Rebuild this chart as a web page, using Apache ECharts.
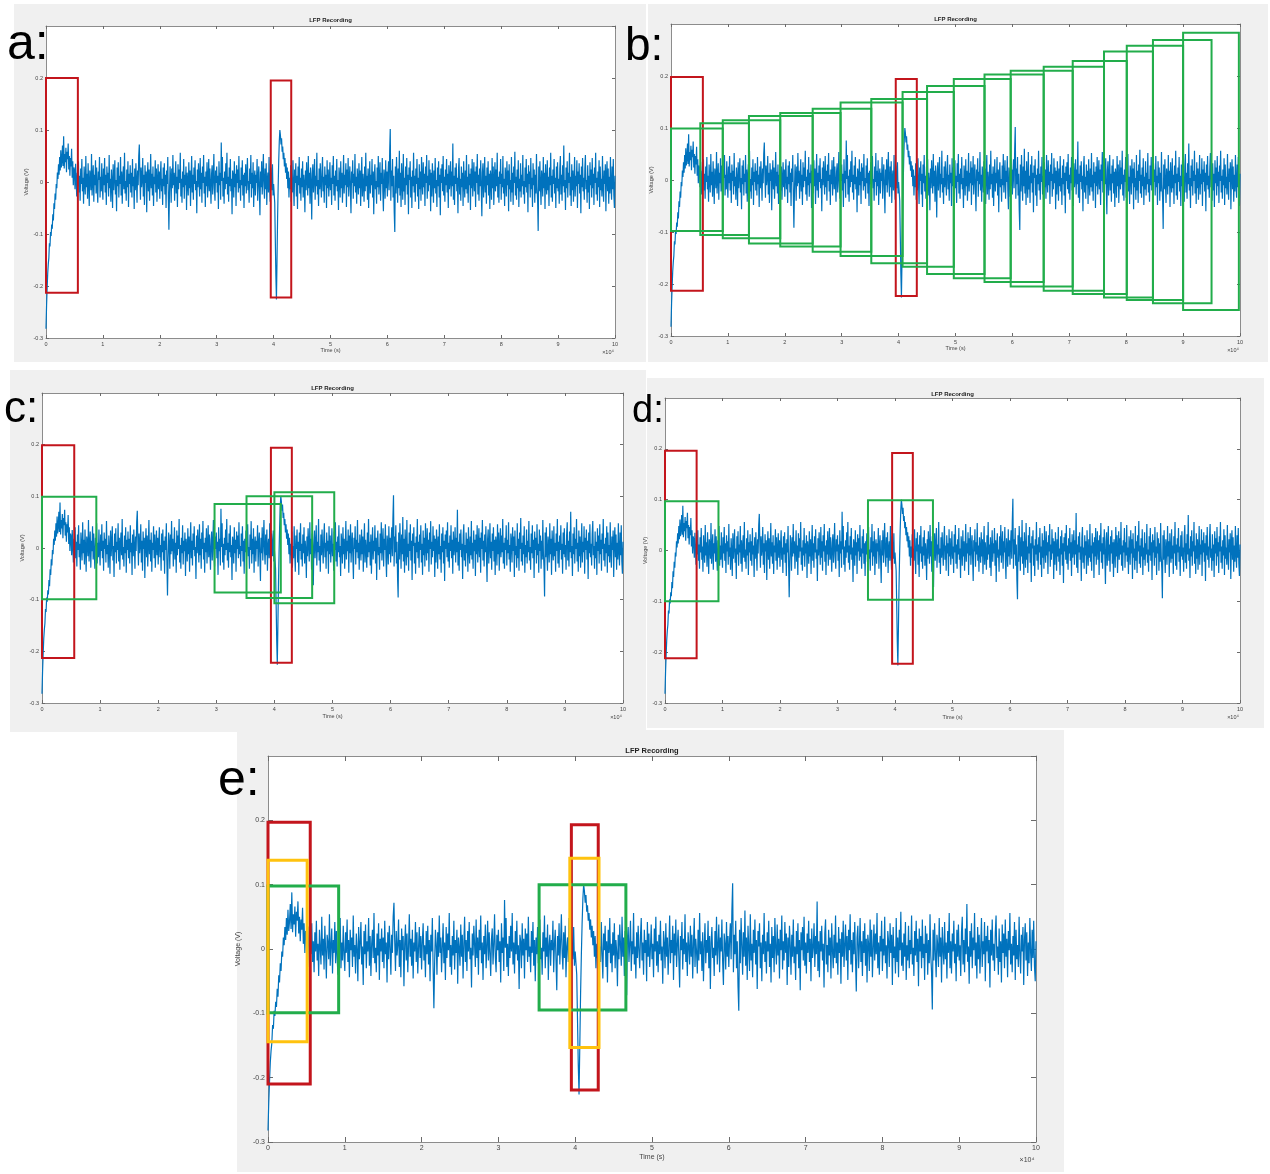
<!DOCTYPE html>
<html>
<head>
<meta charset="utf-8">
<title>LFP Recording</title>
<script src="https://cdn.jsdelivr.net/npm/echarts@6/dist/echarts.min.js"></script>
<style>
  html, body { margin: 0; padding: 0; background: #ffffff; }
  #chart { width: 1270px; height: 1174px; }
</style>
</head>
<body>
<div id="chart"></div>
<script>
// LFP trace in millivolts, evenly sampled over the recording (time axis in units of 1e4 s)
const signalMv = [
  -282,-238,-205,-176,-158,-146,-118,-124,-96,-104,
  -82,-90,-62,-74,-41,-52,-22,-34,-4,-12,
  18,6,34,14,48,22,61,28,42,70,
  31,88,26,54,38,66,19,58,44,74,
  24,50,12,46,30,64,8,40,-6,28,

  22,-14,35,4,-28,18,-8,40,-20,12,
  -36,26,-4,44,-18,8,-42,30,2,-24,
  50,-10,16,-32,36,-2,-46,22,10,-16,
  54,-26,6,32,-38,14,-6,42,-22,28,
  -12,-40,20,4,48,-30,10,-18,36,-8,

  -34,26,-6,46,-20,14,-44,30,-2,18,
  -28,52,-12,6,-38,24,0,-50,34,-16,
  10,42,-24,4,-56,28,-8,38,-30,12,
  -4,48,-26,20,-42,8,30,-14,56,-22,
  2,-36,24,-10,40,-48,16,-4,32,-20,

  18,-30,44,-8,10,-52,26,-16,36,2,
  -40,22,-6,50,72,12,-34,28,-10,6,
  46,-28,14,-44,32,-2,20,-58,8,38,
  -18,24,-36,4,54,-12,16,-26,30,-46,
  10,-4,42,-20,26,-38,2,34,-14,20,

  -32,12,40,-18,6,-44,28,-8,36,-24,
  14,-50,22,-4,48,-30,-92,-20,30,8,
  -40,26,-12,52,-6,18,-36,4,40,-22,
  10,-48,34,-14,24,-2,56,-28,6,-40,
  20,-10,44,-32,14,-6,30,-54,18,2,

  -26,38,-12,22,-46,8,50,-20,14,-34,
  28,-4,42,-16,2,-60,24,-10,36,6,
  -28,46,-14,18,-40,30,-2,52,-22,10,
  -48,20,-8,38,-30,4,44,-18,26,-6,
  -42,16,32,-24,8,54,-12,-36,22,-2,

  30,-20,12,-52,40,-6,18,-34,76,2,
  48,-28,8,-42,20,-14,36,-4,56,-24,
  10,-38,28,-8,44,-18,6,-62,22,12,
  -30,40,-10,16,-46,32,-2,24,-20,50,
  -12,4,-36,28,-6,42,-26,14,-50,18,

  -8,34,-22,10,46,-16,2,-40,26,-4,
  52,-30,18,-12,38,-48,6,22,-26,14,
  -2,44,-36,8,30,-18,-64,20,-10,40,
  -24,12,54,-6,-32,26,-14,36,-44,4,
  18,-20,48,-8,-38,28,6,-16,34,-26,

  -4,-22,-40,-110,-180,-226,-150,-70,-10,40,
  78,100,90,72,84,58,68,44,56,30,
  46,18,36,6,28,-12,20,-30,8,-14,
  32,-38,4,-20,42,-8,-46,24,-2,36,
  -28,12,-52,30,-6,48,-22,8,-36,26,

  -10,40,-30,14,-4,-58,22,-16,38,6,
  -26,50,-12,18,-42,28,-2,-72,16,34,
  -20,8,44,-34,12,-8,56,-24,4,-46,
  26,-14,36,-2,-30,20,48,-18,10,-40,
  30,-6,14,-50,42,-12,24,-28,2,38,

  -16,8,-44,32,-4,50,-26,12,-36,22,
  -8,44,-18,4,-54,28,10,-30,40,-12,
  18,-40,2,52,-22,14,-6,36,-48,24,
  -10,46,-28,6,30,-16,-60,20,-2,42,
  -32,16,-8,54,-20,10,-42,26,4,-24,

  36,-12,22,-46,8,48,-28,16,-4,-38,
  30,-18,56,-8,12,-34,26,-50,4,40,
  -22,14,-6,44,-30,20,-62,10,34,-14,
  2,-42,28,-10,50,-24,6,38,-36,18,
  -4,46,-20,-56,24,8,-32,42,-12,20,

  -28,14,40,-16,58,102,-36,22,-8,44,
  -30,12,-58,-96,30,-22,48,6,-40,26,
  -12,60,-26,18,-48,36,2,-34,54,-18,
  8,-44,30,-6,46,-24,14,-62,28,4,
  40,-30,10,-50,22,-8,56,-20,12,-38,

  26,-4,44,-28,8,-52,34,-14,20,-36,
  48,2,-24,38,-10,16,-46,30,-2,52,
  -32,12,-18,42,-6,24,-56,18,-28,36,
  6,-40,22,-12,46,-22,4,-48,28,-8,
  40,-30,14,-64,26,-2,34,-18,50,-26,

  10,-38,24,-6,44,-20,16,-50,32,-14,
  2,40,-28,20,-8,74,-34,12,-44,28,
  -4,36,-18,8,-60,24,46,-24,6,-36,
  30,-10,18,-46,40,-2,-30,22,-14,52,
  -22,10,-40,34,-6,16,-54,26,-12,44,

  -28,6,38,-18,20,-48,30,-2,54,-24,
  14,-36,26,-8,42,-16,-66,18,36,-30,
  4,48,-20,12,-42,28,-6,40,-26,16,
  -52,22,8,-34,46,-12,30,-44,2,38,
  -18,24,-8,56,-30,10,-40,20,-4,44,

  -34,16,-10,50,-22,6,-46,28,12,-28,
  40,-6,22,-56,34,-14,4,-38,48,-20,
  18,-44,30,-2,58,-26,10,-34,24,-12,
  42,-48,6,-18,36,-30,14,-8,52,-24,
  2,-42,28,-10,44,-20,16,-58,32,-4,

  20,-30,46,-14,8,-48,36,-6,24,-40,
  14,-22,54,-10,-36,-94,30,-18,40,-8,
  -44,22,6,-28,48,-12,18,-52,34,-2,
  -24,42,-16,10,-46,28,-6,56,-30,12,
  -38,24,-4,44,-22,8,-50,30,-12,38,

  -18,6,-42,26,50,-24,14,-36,32,-8,
  70,-20,4,-54,28,-12,40,-30,18,-2,
  56,-26,10,-46,34,-16,22,-38,2,48,
  -28,12,-8,42,-50,20,-4,36,-22,14,
  -60,30,-10,46,-18,8,-34,26,52,-14,

  4,-40,32,-20,12,-52,38,-6,24,-30,
  46,-12,16,-44,28,-2,56,-24,8,-36,
  20,-10,42,-48,30,-16,6,-28,50,-8,
  -38,22,-4,34,-56,14,40,-18,26,-42,
  10,-22,48,-6,-34,30,-14,44,-26,-50,
  12
];
const recordingSpan = 10;          // time axis runs 0..10 (x1e4 s)
const timeMin = 0, timeMax = 10, timeStep = 1;
const voltMin = -0.3, voltMax = 0.3, voltStep = 0.1;

// Analysis windows: [tStart, tEnd, vLow, vHigh]
const redA = [[0, 0.56, -0.213, 0.200], [3.95, 4.31, -0.222, 0.195]];

const redB = [[0, 0.56, -0.213, 0.198], [3.95, 4.32, -0.223, 0.194]];
const greenB = [
  [0.00, 0.91, -0.098, 0.099],
  [0.515, 1.37, -0.106, 0.109],
  [0.91, 1.92, -0.112, 0.115],
  [1.37, 2.49, -0.122, 0.123],
  [1.92, 2.98, -0.128, 0.129],
  [2.49, 3.52, -0.138, 0.137],
  [2.98, 4.07, -0.146, 0.149],
  [3.52, 4.50, -0.160, 0.156],
  [4.07, 4.97, -0.167, 0.169],
  [4.50, 5.51, -0.181, 0.181],
  [4.97, 5.97, -0.189, 0.194],
  [5.51, 6.55, -0.196, 0.203],
  [5.97, 7.06, -0.205, 0.210],
  [6.55, 7.61, -0.213, 0.218],
  [7.06, 8.01, -0.219, 0.229],
  [7.61, 8.47, -0.226, 0.247],
  [8.01, 9.00, -0.231, 0.258],
  [8.47, 9.50, -0.237, 0.269],
  [9.00, 9.98, -0.250, 0.283]
];

const redC = [[0, 0.555, -0.213, 0.199], [3.94, 4.30, -0.222, 0.194]];
const greenC = [
  [0, 0.935, -0.099, 0.099],
  [2.97, 4.11, -0.086, 0.085],
  [3.52, 4.65, -0.097, 0.100],
  [4.00, 5.03, -0.107, 0.108]
];

const redD = [[0, 0.55, -0.212, 0.196], [3.95, 4.31, -0.223, 0.192]];
const greenD = [[0, 0.93, -0.100, 0.097], [3.53, 4.66, -0.097, 0.099]];

const redE = [[0, 0.55, -0.210, 0.197], [3.95, 4.30, -0.219, 0.193]];
const greenE = [[0, 0.92, -0.099, 0.098], [3.53, 4.66, -0.095, 0.100]];
const yellowE = [[0, 0.51, -0.144, 0.138], [3.93, 4.31, -0.153, 0.141]];

// Text
const titleText = 'LFP Recording';
const xName = 'Time (s)';
const yName = 'Voltage (V)';
const xExponent = '\u00d710\u2074';

// Layout and styling
const FONT = '"Liberation Sans", Arial, Helvetica, sans-serif';
const RED = '#c3151c', GREEN = '#22ad4b', YELLOW = '#ffc20e', TRACE = '#0072bd';

const panels = [
  { letter: 'a:', letterPos: [7, 45], letterSize: 50, frame: [14, 4, 632, 358], plot: [46, 26, 569, 312],
    titleY: 20, fs: 5.5, tickLen: 3, xGap: 9, yGap: 12, boxW: 2,
    boxes: [[redA, RED]] },
  { letter: 'b:', letterPos: [625, 47], letterSize: 46, frame: [648, 4, 620, 358], plot: [671, 24, 569, 312],
    titleY: 19, fs: 5.5, tickLen: 3, xGap: 9, yGap: 12, boxW: 2,
    boxes: [[redB, RED], [greenB, GREEN]] },
  { letter: 'c:', letterPos: [4, 410], letterSize: 44, frame: [10, 370, 636, 362], plot: [42, 393, 581, 310],
    titleY: 388, fs: 5.5, tickLen: 3, xGap: 10, yGap: 13, boxW: 2,
    boxes: [[redC, RED], [greenC, GREEN]] },
  { letter: 'd:', letterPos: [632, 412], letterSize: 38, frame: [647, 378, 617, 350], plot: [665, 398, 575, 305],
    titleY: 394, fs: 5.5, tickLen: 3, xGap: 11, yGap: 13, boxW: 2,
    boxes: [[redD, RED], [greenD, GREEN]] },
  { letter: 'e:', letterPos: [218, 781], letterSize: 50, frame: [237, 730, 827, 442], plot: [268, 756, 768, 386],
    titleY: 751, fs: 7, tickLen: 5, xGap: 12, yGap: 18, boxW: 3,
    boxes: [[redE, RED], [greenE, GREEN], [yellowE, YELLOW]] }
];

const tStep = recordingSpan / (signalMv.length - 1);
const trace = signalMv.map((mv, i) => [i * tStep, mv / 1000]);

const option = {
  animation: false,
  graphic: { elements: [] },
  grid: [], xAxis: [], yAxis: [], series: []
};

function boxSeries(axisIdx, boxes, color, width) {
  return {
    type: 'custom',
    xAxisIndex: axisIdx, yAxisIndex: axisIdx,
    data: boxes,
    encode: { x: [0, 1], y: [2, 3] },
    z: 5, silent: true, clip: false,
    renderItem(params, api) {
      const tl = api.coord([api.value(0), api.value(3)]);
      const br = api.coord([api.value(1), api.value(2)]);
      return {
        type: 'rect',
        shape: { x: tl[0], y: tl[1], width: br[0] - tl[0], height: br[1] - tl[1] },
        style: { fill: 'none', stroke: color, lineWidth: width }
      };
    }
  };
}

panels.forEach((p, i) => {
  const [l, t, w, h] = p.plot;
  const [fx, fy, fw, fh] = p.frame;
  const g = option.graphic.elements;
  g.push({ type: 'rect', z: -10, silent: true, shape: { x: fx, y: fy, width: fw, height: fh }, style: { fill: '#f0f0f0' } });
  g.push({ type: 'rect', z: -9, silent: true, shape: { x: l, y: t, width: w, height: h }, style: { fill: '#ffffff' } });
  g.push({ type: 'text', z: 50, silent: true, x: l + w / 2, y: p.titleY,
    style: { text: titleText, font: 'bold ' + (p.fs + 0.5) + 'px ' + FONT, fill: '#222', align: 'center', verticalAlign: 'middle' } });
  g.push({ type: 'text', z: 50, silent: true, x: l + w - (p.fs > 6 ? 9 : 7), y: t + h + (p.fs > 6 ? 18 : 14),
    style: { text: xExponent, font: p.fs + 'px ' + FONT, fill: '#444', align: 'center', verticalAlign: 'middle' } });
  g.push({ type: 'text', z: 50, silent: true, x: p.letterPos[0], y: p.letterPos[1],
    style: { text: p.letter, font: p.letterSize + 'px ' + FONT, fill: '#000', align: 'left', verticalAlign: 'middle' } });

  option.grid.push({ left: l, top: t, width: w, height: h, containLabel: false, outerBoundsMode: 'none', show: false });

  const axisLine = { show: true, onZero: false, lineStyle: { color: '#8c8c8c', width: 1 } };
  const axisTick = { show: true, inside: true, length: p.tickLen, lineStyle: { color: '#6a6a6a', width: 1 } };
  const label = { fontSize: p.fs, color: '#444', fontFamily: FONT, margin: 3 };
  const nameStyle = { fontSize: p.fs, color: '#444', fontFamily: FONT };

  option.xAxis.push({ type: 'value', gridIndex: i, position: 'bottom', min: timeMin, max: timeMax, interval: timeStep,
    axisLine, axisTick, splitLine: { show: false }, axisLabel: label,
    name: xName, nameLocation: 'middle', nameGap: p.xGap, nameTextStyle: nameStyle });
  option.xAxis.push({ type: 'value', gridIndex: i, position: 'top', min: timeMin, max: timeMax, interval: timeStep,
    axisLine, axisTick, splitLine: { show: false }, axisLabel: { show: false } });
  option.yAxis.push({ type: 'value', gridIndex: i, position: 'left', min: voltMin, max: voltMax, interval: voltStep,
    axisLine, axisTick, splitLine: { show: false }, axisLabel: Object.assign({ showMaxLabel: false }, label),
    name: yName, nameLocation: 'middle', nameGap: p.yGap, nameRotate: 90, nameTextStyle: nameStyle });
  option.yAxis.push({ type: 'value', gridIndex: i, position: 'right', min: voltMin, max: voltMax, interval: voltStep,
    axisLine, axisTick, splitLine: { show: false }, axisLabel: { show: false } });

  option.series.push({
    type: 'line', xAxisIndex: 2 * i, yAxisIndex: 2 * i, data: trace,
    symbol: 'none', showSymbol: false, silent: true, z: 2,
    lineStyle: { color: TRACE, width: 1.2 }, itemStyle: { color: TRACE }
  });
  p.boxes.forEach(([list, color]) => option.series.push(boxSeries(2 * i, list, color, p.boxW)));
});

const chart = echarts.init(document.getElementById('chart'), null, { renderer: 'canvas' });
chart.setOption(option);
</script>
</body>
</html>
